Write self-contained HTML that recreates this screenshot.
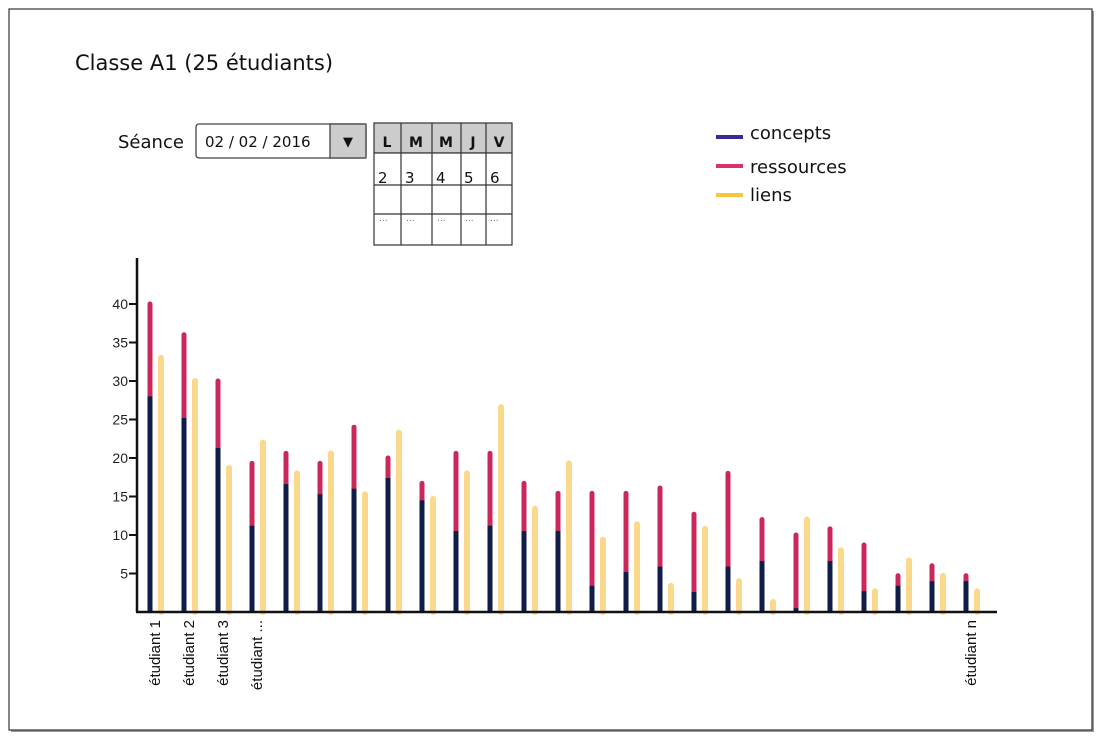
<!DOCTYPE html>
<html><head><meta charset="utf-8">
<style>
body{margin:0;background:#fff;width:1100px;height:740px;overflow:hidden;font-family:"DejaVu Sans","Liberation Sans",sans-serif;}
</style></head>
<body>
<svg width="1100" height="740" xmlns="http://www.w3.org/2000/svg">
<rect x="11" y="11" width="1083" height="721" fill="#999"/>
<rect x="9" y="9" width="1083" height="721" fill="#fff" stroke="#333" stroke-width="1.2"/>
<text x="75" y="70" font-size="21" fill="#111">Classe A1 (25 étudiants)</text>

<text x="118" y="148" font-size="18" fill="#111">Séance</text>
<g>
<rect x="196" y="124" width="170" height="34" rx="3" fill="#fff" stroke="#444" stroke-width="1.3"/>
<text x="205" y="147" font-size="15" fill="#111">02 / 02 / 2016</text>
<rect x="330" y="124" width="36" height="34" fill="#ccc" stroke="#444" stroke-width="1.3"/>
<text x="348" y="146" font-size="13" text-anchor="middle" fill="#111">▼</text>
</g>

<g stroke="#333" stroke-width="1.2" font-size="14">
<rect x="374" y="123" width="138" height="30" fill="#ccc"/>
<rect x="374" y="153" width="138" height="92" fill="#fff"/>
<line x1="374" y1="185" x2="512" y2="185"/><line x1="374" y1="214" x2="512" y2="214"/>
<line x1="401" y1="123" x2="401" y2="245"/><line x1="432" y1="123" x2="432" y2="245"/>
<line x1="461" y1="123" x2="461" y2="245"/><line x1="486" y1="123" x2="486" y2="245"/>
<g stroke="none" fill="#111" font-weight="bold">
<text x="387" y="147" text-anchor="middle">L</text><text x="416" y="147" text-anchor="middle">M</text>
<text x="446" y="147" text-anchor="middle">M</text><text x="473" y="147" text-anchor="middle">J</text>
<text x="499" y="147" text-anchor="middle">V</text></g>
<g stroke="none" fill="#111" font-size="15">
<text x="378" y="183">2</text><text x="405" y="183">3</text><text x="436" y="183">4</text>
<text x="464" y="183">5</text><text x="490" y="183">6</text></g>
<g stroke="none" fill="#666" font-size="9">
<text x="379" y="221">...</text><text x="406" y="221">...</text><text x="437" y="221">...</text>
<text x="465" y="221">...</text><text x="490" y="221">...</text></g>
</g>

<g font-size="18" fill="#111">
<rect x="716" y="135" width="27" height="4" fill="#3b2a96"/>
<text x="750" y="139">concepts</text>
<rect x="716" y="164" width="27" height="4" fill="#d8336e"/>
<text x="750" y="173">ressources</text>
<rect x="716" y="193" width="27" height="4" fill="#f7c63a"/>
<text x="750" y="201">liens</text>
</g>

<g id="chart"></g>
</svg>
<script>
const categories = ["étudiant 1","étudiant 2","étudiant 3","étudiant ...","","","","","","","","","","","","","","","","","","","","","étudiant n"];
const concepts = [28,25.2,21.3,11.2,16.6,15.3,16,17.4,14.5,10.5,11.2,10.5,10.5,3.4,5.2,5.9,2.6,5.9,6.6,0.5,6.6,2.7,3.4,4,4];
const ressources = [12,10.8,8.7,8.1,4,4,8,2.6,2.2,10.1,9.4,6.2,4.9,12,10.2,10.2,10.1,12.1,5.4,9.5,4.2,6,1.3,2,0.7];
const liens = [33,30,18.7,22,18,20.6,15.3,23.3,14.7,18,26.6,13.4,19.3,9.4,11.4,3.4,10.8,4,1.3,12,8,2.7,6.7,4.7,2.7];
const yTicks = [5,10,15,20,25,30,35,40];

const NS = "http://www.w3.org/2000/svg";
const g = document.getElementById("chart");
const x0 = 150, x1 = 966, baseY = 612, pxPerUnit = 7.7;
function xScale(i){ return x0 + i*(x1-x0)/(categories.length-1); }
function yScale(v){ return baseY - v*pxPerUnit; }
function mk(tag, attrs){ const e=document.createElementNS(NS,tag); for(const k in attrs) e.setAttribute(k,attrs[k]); g.appendChild(e); return e; }

categories.forEach((c,i)=>{
  const x = xScale(i);
  const total = concepts[i]+ressources[i];
  const r = mk("line",{x1:x,x2:x,y1:yScale(concepts[i]),y2:yScale(total),stroke:"#c8285a","stroke-width":5,"stroke-linecap":"round"});
  
  
  const b = mk("line",{x1:x,x2:x,y1:baseY,y2:yScale(concepts[i]),stroke:"#0f1d48","stroke-width":5});
  
  
  const l = mk("line",{x1:x+11,x2:x+11,y1:baseY,y2:yScale(liens[i]),stroke:"#fbd98c","stroke-width":6,"stroke-linecap":"round"});
  
  
  if(c){
    const t = mk("text",{x:0,y:0,"font-size":15,"font-family":"Liberation Sans, sans-serif",fill:"#111","text-anchor":"end",transform:`translate(${x+10},620) rotate(-90)`});
    t.textContent = c;
    
    
  }
});

const ya = mk("line",{x1:137,x2:137,y1:258,y2:baseY,stroke:"#111","stroke-width":2.5});


const xa = mk("line",{x1:136,x2:997,y1:baseY,y2:baseY,stroke:"#111","stroke-width":2.5});


yTicks.forEach(v=>{
  const y = yScale(v);
  const tk = mk("line",{x1:129,x2:137,y1:y,y2:y,stroke:"#111","stroke-width":2});
  
  
  const t = mk("text",{x:128,y:y+5,"font-size":14,"font-family":"Liberation Sans, sans-serif",fill:"#222","text-anchor":"end"});
  t.textContent = v;
  
  
});
</script>
</body></html>
